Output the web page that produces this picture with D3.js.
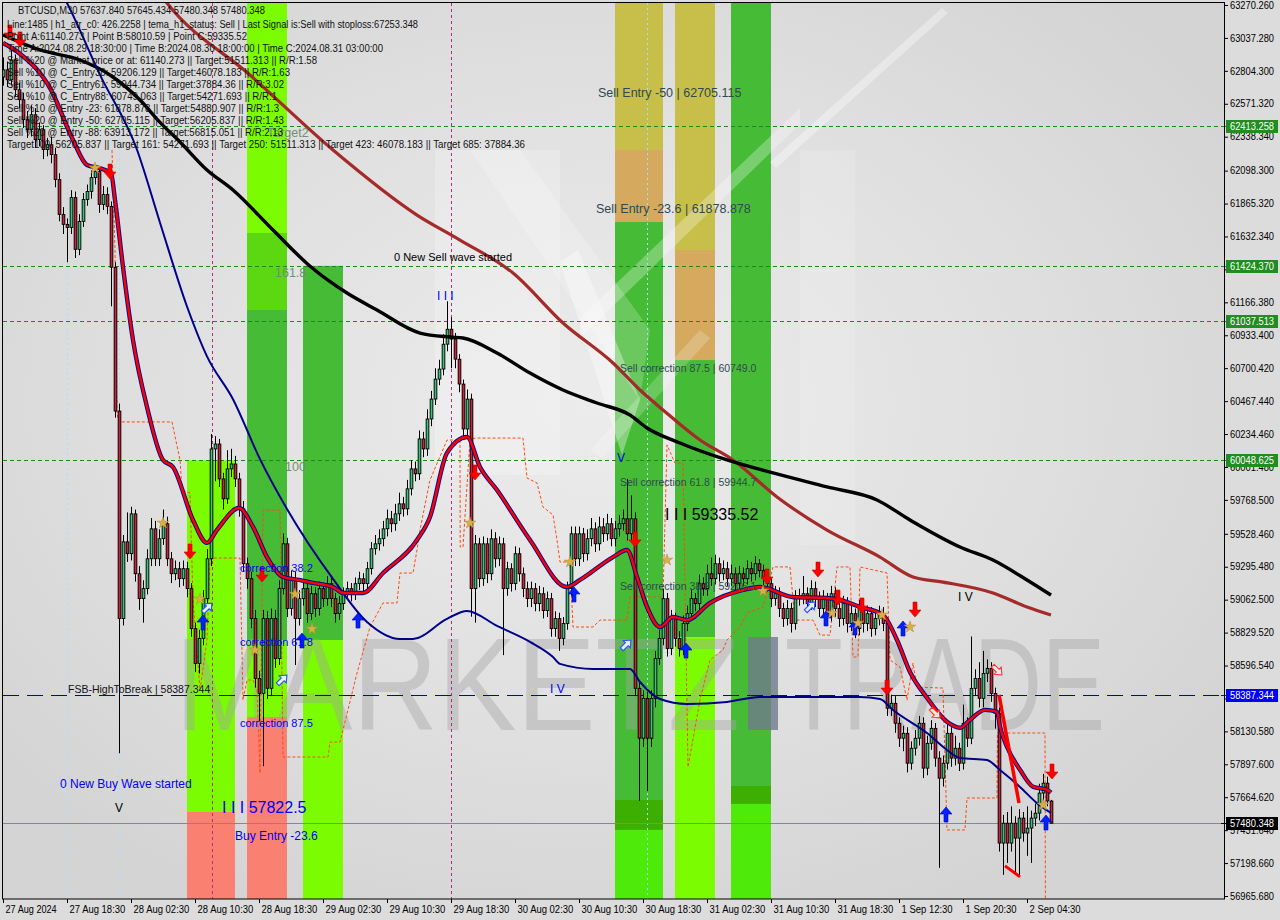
<!DOCTYPE html>
<html><head><meta charset="utf-8">
<script src="https://cdn.jsdelivr.net/npm/d3@7"></script>
<style>
html,body{margin:0;padding:0;background:#dcdcdc;}
svg{display:block;}
text{font-family:"Liberation Sans",Arial,sans-serif;}
</style></head><body>
<svg id="c" width="1280" height="920"></svg>
<script>
// ---------------- DATA ----------------
const firstOpen = 62760;
const closes = [
62812,62741,62882,62671,62600,62459,62388,62494,62318,62388,
62247,62282,62212,62035,61788,61718,61696,61908,61541,61739,
61894,61951,62049,62092,61859,61929,61845,61414,60397,58929,
59472,59388,59670,59246,59070,59141,59352,59564,59352,59494,
59600,59352,59246,59282,59211,59282,59141,58858,58611,58788,
59070,59352,60129,60164,59917,59776,59988,60023,59917,59705,
59317,59211,58929,58505,58399,58929,58435,58929,58646,59141,
59458,59000,59211,58929,59070,59141,58964,59105,59000,59141,
59070,59176,59070,58964,59035,59105,59141,59105,59176,59211,
59176,59282,59423,59458,59494,59564,59635,59600,59670,59741,
59705,59847,59988,59953,60200,60129,60341,60482,60623,60694,
60870,60976,60906,60764,60588,60270,60482,59141,59458,59211,
59458,59246,59494,59352,59458,59141,59282,59176,59388,59246,
59141,59070,59141,59035,59105,58985,59070,58858,58929,58788,
58894,59141,59529,59352,59529,59388,59494,59564,59458,59578,
59529,59600,59494,59564,59600,59635,59529,59635,58435,58082,
58364,58082,58364,58646,58788,59070,58717,58929,58788,58717,
58894,58964,59070,59035,59176,59141,59246,59211,59317,59246,
59282,59211,59246,59176,59246,59211,59282,59246,59317,59268,
59211,59176,59070,59105,59000,58929,59000,58894,59070,59084,
59105,59035,59141,59070,59000,59070,58964,59105,59000,58929,
59035,58894,58964,58858,59000,58894,58964,58858,58929,58964,
58894,58294,58329,58188,58082,58117,57905,58011,58082,58188,
57870,58046,58152,57941,57799,57905,58117,57941,58011,57905,
58188,58082,58435,58505,58364,58541,58576,58399,58258,57340,
57481,57340,57481,57375,57517,57411,57446,57517,57552,57694,
57764,57637.84,57480.348
];
const highs = [
62900,62870,62960,62920,62720,62650,62520,62560,62540,62440,
62420,62330,62340,62260,62080,61840,61760,61960,61950,61790,
61940,62000,62100,62140,62130,61990,61980,61880,61450,60450,
59520,59680,59720,59700,59300,59200,59420,59640,59620,59560,
59700,59650,59400,59340,59330,59340,59330,59180,58900,58850,
59130,59420,60235,60220,60200,59960,60120,60130,60080,59960,
59760,59360,59260,58990,58560,58990,58980,59000,58990,59200,
59530,59500,59270,59260,59130,59200,59190,59160,59150,59190,
59180,59230,59220,59110,59090,59150,59190,59180,59220,59260,
59250,59330,59470,59520,59560,59620,59700,59690,59740,59820,
59790,59910,60050,60040,60260,60250,60410,60540,60700,60760,
60940,61174,61060,60950,60800,60620,60550,60520,59520,59500,
59510,59500,59560,59540,59510,59500,59330,59320,59440,59430,
59290,59190,59190,59180,59160,59150,59120,59110,58980,58970,
58940,59190,59580,59580,59580,59570,59560,59640,59610,59650,
59640,59670,59640,59620,59660,59700,59917,59800,59680,58480,
58420,58410,58420,58700,58850,59140,59110,58990,58970,58840,
58950,59020,59130,59110,59240,59220,59310,59360,59380,59360,
59340,59330,59310,59290,59300,59290,59340,59330,59370,59350,
59310,59260,59220,59160,59150,59040,59060,59040,59130,59140,
59230,59150,59200,59190,59120,59130,59110,59160,59150,59050,
59090,59080,59020,59000,59060,59040,59020,59010,58980,59020,
59010,58930,58390,58380,58230,58170,58160,58060,58140,58240,
58230,58100,58210,58190,57990,57960,58180,58160,58100,58050,
58320,58230,58802,58570,58620,58700,58640,58620,58440,58300,
57540,57560,57600,57530,57580,57560,57600,57570,57620,57760,
57830,57810,57645.434
];
const lows = [
62700,62690,62700,62620,62540,62400,62330,62340,62260,62270,
62180,62200,62150,61980,61740,61650,61450,61650,61480,61500,
61700,61850,61900,62000,61800,61820,61790,61138,60350,57976,
58880,59330,59340,59190,58990,58900,59100,59300,59300,59300,
59450,59300,59180,59200,59150,59160,59080,58800,58550,58540,
58740,59000,59300,59900,59860,59700,59740,59930,59860,59650,
59260,59140,58860,58440,58200,57884,58360,58380,58580,58600,
59100,58940,58950,58600,58880,59020,58900,58920,58940,58950,
59010,59020,59010,58900,58920,58990,59060,59050,59060,59130,
59120,59130,59240,59380,59410,59440,59510,59540,59550,59620,
59650,59660,59800,59900,59910,60070,60080,60290,60440,60580,
60650,60820,60700,60700,60530,60200,60220,58942,58900,59150,
59160,59180,59200,59290,59300,58670,59090,59120,59130,59190,
59080,59010,59010,58980,58980,58930,58940,58800,58800,58700,
58740,58850,59090,59300,59300,59330,59340,59440,59400,59410,
59470,59480,59440,59440,59510,59550,59480,59480,58380,57640,
58020,57708,58020,58300,58600,58740,58660,58670,58730,58660,
58670,58840,58920,58980,58990,59090,59090,59160,59170,59190,
59200,59160,59160,59120,59130,59160,59170,59190,59200,59220,
59160,59120,59010,59020,58940,58870,58880,58830,58850,59020,
59030,58980,58990,59010,58940,58950,58900,58910,58940,58870,
58880,58830,58840,58790,58810,58830,58840,58800,58810,58880,
58840,58240,58240,58120,58020,57990,57840,57860,57960,58030,
57800,57820,58000,57880,57165,57740,57860,57880,57890,57850,
57860,58020,58040,58380,58300,58300,58480,58340,58150,57280,
57115,57200,57280,57130,57115,57350,57250,57200,57460,57500,
57640,57600,57480.348
];

// moving averages as [bar index, price]
const fastMA = [[0,63002],[4,62931],[12,62670],[17.5,62315],[21,62138],[24,62117],[27,62081],[28,61891],[30,61416],[32.5,60900],[36,60426],[40,60051],[42.5,60001],[47.5,59626],[51,59464],[53.5,59556],[59,59711],[62.5,59577],[66,59364],[70,59223],[74,59202],[77.5,59181],[82.5,59152],[85,59110],[90,59110],[95,59251],[103.5,59485],[106.75,59648],[111,60101],[116,60214],[119.25,60001],[123.5,59838],[131.75,59485],[141,59152],[144.25,59202],[152.5,59364],[156,59414],[158.5,59223],[161,59011],[164.25,58869],[167.5,58940],[171,58918],[176.75,59039],[185,59131],[189.25,59152],[197.5,59081],[206,59074],[209.25,59060],[214.25,59011],[220,58954],[223.5,58777],[226.75,58551],[231,58368],[236,58198],[239.25,58156],[241.75,58212],[245.5,58283],[248.5,58269],[249.25,58163],[251,58022],[254.25,57859],[257.5,57739],[261,57718],[262,57697]];
const navyMA = [[14.25,63376],[16,63284],[24.25,62776],[33.5,62246],[39.25,61730],[46,61137],[51,60784],[57.5,60481],[64.25,60057],[71,59704],[82.5,59209],[91,58905],[99.25,58785],[102.5,58785],[111,58927],[116,58983],[123.5,58877],[131.75,58764],[137.5,58657],[139.25,58608],[147.5,58572],[156.75,58572],[159.25,58480],[164.25,58360],[171,58325],[181,58339],[189.25,58374],[197.5,58374],[214.25,58374],[219.25,58360],[222.5,58282],[231,58119],[236,57999],[239.25,57942],[246,57928],[249.25,57857],[254.25,57737],[258.5,57623],[262,57553]];
const blackMA = [[0,63058],[9.25,62952],[19.25,62881],[26.75,62775],[34.25,62598],[39.25,62440],[44.25,62301],[51,62103],[57.5,61961],[67.5,61678],[77,61416],[86,61232],[93.5,61112],[104.25,60949],[111.75,60921],[115,60914],[123.5,60808],[131.75,60666],[140,60546],[148.5,60454],[156.75,60369],[161,60277],[169.25,60171],[181,60051],[192.5,59959],[206,59860],[218.5,59768],[226.75,59626],[239.25,59435],[247.5,59343],[256,59202],[262,59095]];
const brownMA = [[36.75,63447],[41,63284],[61.75,62775],[82.5,62244],[103.5,61784],[114.25,61607],[127.5,61374],[140,61020],[152.5,60737],[159.25,60546],[165,60405],[174.25,60192],[182.5,60051],[193.5,59789],[206,59555],[219.25,59364],[227.5,59223],[235,59187],[247.5,59110],[256,59011],[262,58954]];
const stopLine = [[27.25,62244],[28,61537],[28.5,60383],[29,60320],[42.25,60320],[44.25,60051],[44.75,59838],[46.75,59817],[47.5,59060],[49.25,58423],[51,58777],[51.75,59343],[52.5,59357],[59.25,59357],[60,58352],[61,58494],[62.5,58494],[63.5,58423],[64.25,57836],[65,59697],[69.25,59697],[70,57949],[81.25,57949],[81.75,58055],[84.25,58055],[85,58140],[88.5,58543],[91.75,58869],[95,59039],[98.5,59039],[99.25,59251],[102.5,59251],[103.5,59414],[104.25,59556],[106.75,59909],[111,60192],[114.25,60192],[114.3,59435],[115,59435],[116.75,60192],[118,60206],[130,60206],[131,59923],[133.5,59888],[135,59718],[137.5,59662],[138.5,59485],[139.25,59329],[141.75,59329],[142.5,58869],[147.5,58869],[149.25,58918],[156,58918],[156.75,59081],[165,59081],[166,60157],[168,60029],[170,60029],[171.25,57878],[174.25,58353],[176.75,58636],[180,58706],[181,58777],[184.25,58869],[186,58968],[190,59010],[192.5,59294],[196.75,59294],[198,58918],[202.5,58918],[204.25,58812],[206.75,58812],[208.5,59294],[211.75,59294],[212.5,58657],[213.75,58657],[214.25,59294],[221,59251],[221.75,58636],[224.25,58586],[226,58352],[227.5,58614],[228.5,58444],[235,58437],[236,57433],[240.5,57433],[241,57659],[248.5,57659],[248.6,58119],[260.5,58119],[260.6,56937]];
const trendDown = [[249,58389],[254,57624]];
const trendLow = [[250.5,57179],[254.25,57101]];

// levels
const fibLevels = [62413.258, 61424.370, 61037.513, 60048.625];
const fsbLevel = 58387.344;
const bidLevel = 57480.348;

// zones: bar range and price segments with zone kind
const bands = [
 {from:46,to:58,segs:[[60048.625,57560,'lime'],[57560,56900,'salmon']]},
 {from:61,to:71,segs:[[63400,61657,'lime'],[61657,61112,'mid'],[61112,58777,'green'],[58777,58232,'lime'],[58232,56900,'salmon']]},
 {from:75,to:85,segs:[[61424.37,58777,'green'],[58777,56900,'lime']]},
 {from:153,to:165,segs:[[63400,62244,'khaki'],[62244,61735,'tan'],[61735,57645,'green'],[57645,57433,'deep'],[57433,56900,'bright']]},
 {from:168,to:178,segs:[[63400,61537,'khaki'],[61537,60758,'tan'],[60758,58798,'green'],[58798,56900,'lime']]},
 {from:182,to:192,segs:[[63400,57744,'green'],[57744,57617,'deep'],[57617,56900,'bright']]}
];
const vLines = [[16,'session'],[29,'session'],[52.25,'pivot'],[112,'pivot'],[161,'session']];

// signals
const sellArrows = [[1.75,63072],[4.25,63023],[26.75,62088],[46.75,59400],[64.75,59237],[118,59959],[158,59485],[191,59223],[203.75,59272],[208.75,59074],[214.75,59018],[228,58989],[221,58437],[262.25,57843]];
const buyArrows = [[50,58904],[74.75,58777],[88.75,58918],[142.75,59103],[170.75,58706],[205.75,58933],[213,58869],[225,58862],[235.75,57546],[260.75,57489]];
const stars = [[23,62117],[40,59605],[49.25,59067],[63,58706],[73,59102],[77.25,58855],[116.75,59605],[141.75,59329],[166,59343],[190,59124],[207.25,58968],[213.75,58897],[219.75,58954],[226.75,58869],[260,57610]];
const hollowUp = [[51,59003],[69.75,58494],[155.75,58742],[201.75,59011]];
const hollowDown = [[248.5,58565],[233,58261]];

// annotations: [text, bar index, price, kind]
const notes = [
 ['0 New Sell wave started', 97.75, 61487, 'wave'],
 ['I I I', 108.5, 61211, 'markBlue'],
 ['Sell Entry -50 | 62705.115', 148.75, 62647, 'entry'],
 ['Sell Entry -23.6 | 61878.878', 148.25, 61827, 'entry'],
 ['Sell correction 87.5 | 60749.0', 154.25, 60702, 'corr'],
 ['V', 153.5, 60065, 'markBlue'],
 ['Sell correction 61.8 | 59944.7', 154.25, 59895, 'corr'],
 ['I I I 59335.52', 165.5, 59662, 'price'],
 ['Sell correction 38.2 | 59206.1', 154.25, 59159, 'corr'],
 ['I V', 238.75, 59081, 'markBlack'],
 ['I V', 136.75, 58430, 'markBlue'],
 ['FSB-HighToBreak | 58387.344', 16.25, 58430, 'fsb'],
 ['correction 38.2', 59.25, 59287, 'corrBlue'],
 ['correction 61.8', 59.25, 58763, 'corrBlue'],
 ['correction 87.5', 59.25, 58190, 'corrBlue'],
 ['0 New Buy Wave started', 14.25, 57758, 'waveBlue'],
 ['V', 28, 57588, 'markBlack'],
 ['I I I 57822.5', 54.75, 57595, 'priceBlue'],
 ['Buy Entry -23.6', 58, 57390, 'waveBlue'],
 ['Target2', 66, 62364, 'fib'],
 ['161.8', 68, 61374, 'fib'],
 ['100', 70.5, 60001, 'fib']
];

const infoLines = [
 'BTCUSD,M30  57637.840 57645.434 57480.348 57480.348',
 'Line:1485 | h1_atr_c0: 426.2258 | tema_h1_status: Sell | Last Signal is:Sell with stoploss:67253.348',
 'Point A:61140.273 | Point B:58010.59 | Point C:59335.52',
 'Time A:2024.08.29 18:30:00 | Time B:2024.08.30 18:00:00 | Time C:2024.08.31 03:00:00',
 'Sell %20 @ Market price or at: 61140.273 || Target:51511.313 || R/R:1.58',
 'Sell %10 @ C_Entry38: 59206.129 || Target:46078.183 || R/R:1.63',
 'Sell %10 @ C_Entry61: 59944.734 || Target:37884.36 || R/R:3.02',
 'Sell %10 @ C_Entry88: 60749.063 || Target:54271.693 || R/R:1',
 'Sell %10 @ Entry -23: 61878.878 || Target:54880.907 || R/R:1.3',
 'Sell %20 @ Entry -50: 62705.115 || Target:56205.837 || R/R:1.43',
 'Sell %20 @ Entry -88: 63913.172 || Target:56815.051 || R/R:2.13',
 'Target100: 56205.837 || Target 161: 54271.693 || Target 250: 51511.313 || Target 423: 46078.183 || Target 685: 37884.36'
];

const yTicks = [63270.260,63037.280,62804.300,62571.320,62338.340,62098.300,61865.320,61632.340,61399.360,61166.380,60933.400,60700.420,60467.440,60234.460,60001.480,59768.500,59528.460,59295.480,59062.500,58829.520,58596.540,58363.560,58130.580,57897.600,57664.620,57431.640,57198.660,56965.680];
const xTickIdx = [0,16,32,48,64,80,96,112,128,144,160,176,192,208,224,240,256];
const xTickLabels = ['27 Aug 2024','27 Aug 18:30','28 Aug 02:30','28 Aug 10:30','28 Aug 18:30','29 Aug 02:30','29 Aug 10:30','29 Aug 18:30','30 Aug 02:30','30 Aug 10:30','30 Aug 18:30','31 Aug 02:30','31 Aug 10:30','31 Aug 18:30','1 Sep 12:30','1 Sep 20:30','2 Sep 04:30'];

// ---------------- DRAW ----------------
const W=1280,H=920, PL=3, PT=3, PR=1224, PB=899;
const svg = d3.select('#c');
const x = d3.scaleLinear().domain([0,305]).range([3,1223]);
const y = d3.scaleLinear().domain([56965.68,63270.26]).range([896,5]);

const defs = svg.append('defs');
const rg = defs.append('radialGradient').attr('id','bg').attr('cx','0.48').attr('cy','0.45').attr('r','0.62');
rg.append('stop').attr('offset','0').attr('stop-color','#ececec');
rg.append('stop').attr('offset','0.6').attr('stop-color','#dfdfdf');
rg.append('stop').attr('offset','1').attr('stop-color','#d4d4d4');
defs.append('clipPath').attr('id','clip').append('rect').attr('x',PL).attr('y',PT).attr('width',PR-PL).attr('height',PB-PT);

svg.append('rect').attr('width',W).attr('height',H).attr('fill','#dcdcdc');
const plot = svg.append('g').attr('clip-path','url(#clip)');
plot.append('rect').attr('x',PL).attr('y',PT).attr('width',PR-PL).attr('height',PB-PT).attr('fill','url(#bg)');

// logo (faint)
const logo = plot.append('g');
logo.append('rect').attr('x',435).attr('y',150).attr('width',125).attr('height',325).attr('fill','#fff').attr('opacity',0.22);
logo.append('rect').attr('x',800).attr('y',150).attr('width',55).attr('height',395).attr('fill','#fff').attr('opacity',0.14);
logo.append('path').attr('d','M470,150 L520,150 L650,330 L640,400 Z').attr('fill','#fff').attr('opacity',0.2);
logo.append('path').attr('d','M560,262 L578,250 L640,400 L622,455 Z').attr('fill','#fff').attr('opacity',0.35);

// zones
const bandColor = {lime:'#7cfc00', green:'#46bb36', deep:'#3caf00', mid:'#5cd812', khaki:'#c8bf4a', tan:'#d5aa5e', salmon:'#fa8072', bright:'#4eea0a'};
bands.forEach(b => b.segs.forEach(s => {
  plot.append('rect').attr('x', x(b.from)).attr('width', x(b.to)-x(b.from))
    .attr('y', y(s[0])).attr('height', y(s[1])-y(s[0])).attr('fill', bandColor[s[2]]);
}));

// swoosh over zones
logo.raise();
plot.append('path').attr('d','M580,318 L800,108 L800,124 L580,338 Z').attr('fill','#fff').attr('opacity',0.28);
plot.append('path').attr('d','M770,162 L942,8 L948,13 L776,168 Z').attr('fill','#fff').attr('opacity',0.35);
plot.append('path').attr('d','M590,450 L700,330 L710,338 L602,458 Z').attr('fill','#fff').attr('opacity',0.2);

// watermark
const wm = plot.append('g');
wm.append('text').attr('x',175).attr('y',730).attr('font-size',132).attr('fill','#a4a4a4').attr('opacity',0.42)
  .attr('textLength',565).attr('lengthAdjust','spacingAndGlyphs').text('MARKETZ');
wm.append('rect').attr('x',748).attr('y',637).attr('width',30).attr('height',93).attr('fill','#6f7b8c').attr('opacity',0.8);
wm.append('text').attr('x',785).attr('y',730).attr('font-size',132).attr('fill','#a4a4a4').attr('opacity',0.42)
  .attr('textLength',320).attr('lengthAdjust','spacingAndGlyphs').text('TRADE');

// vertical lines
const vStyle = {session:['#a8e4ee','2,3'], pivot:['#c0287a','3,3']};
vLines.forEach(v => {
  plot.append('line').attr('x1',x(v[0])+0.5).attr('x2',x(v[0])+0.5).attr('y1',PT).attr('y2',PB)
    .attr('stroke',vStyle[v[1]][0]).attr('stroke-dasharray',vStyle[v[1]][1]).attr('stroke-width',1);
});

// horizontal levels
fibLevels.forEach(p => {
  plot.append('line').attr('x1',PL).attr('x2',PR).attr('y1',Math.round(y(p))+0.5).attr('y2',Math.round(y(p))+0.5)
    .attr('stroke','#1a8a1a').attr('stroke-dasharray','4,3').attr('stroke-width',1);
});
plot.append('line').attr('x1',PL).attr('x2',PR).attr('y1',Math.round(y(fsbLevel))+0.5).attr('y2',Math.round(y(fsbLevel))+0.5)
  .attr('stroke','#0000c8').attr('stroke-dasharray','16,8').attr('stroke-width',1);
plot.append('line').attr('x1',PL).attr('x2',PR).attr('y1',Math.round(y(bidLevel))+0.5).attr('y2',Math.round(y(bidLevel))+0.5)
  .attr('stroke','#7f8a96').attr('stroke-width',1);

// stop line
const line = d3.line().x(d=>x(d[0])).y(d=>y(d[1]));
plot.append('path').datum(stopLine).attr('d',line).attr('fill','none')
  .attr('stroke','#ff4a10').attr('stroke-width',1).attr('stroke-dasharray','3,2');

// candles
const cg = plot.append('g');
closes.forEach((c,i) => {
  const o = i===0 ? firstOpen : closes[i-1];
  const cx = x(i) + 0.5;
  cg.append('line').attr('x1',cx).attr('x2',cx).attr('y1',y(highs[i])).attr('y2',y(lows[i]))
    .attr('stroke','#000').attr('stroke-width',1);
  const top = y(Math.max(o,c)), h = Math.max(1, Math.abs(y(o)-y(c)));
  cg.append('rect').attr('x',cx-1.8).attr('width',3.6).attr('y',top-0.4).attr('height',h+0.8).attr('fill','#000');
  if (h > 1.5) cg.append('rect').attr('x',cx-0.9).attr('width',1.8).attr('y',top+0.5).attr('height',h-1)
    .attr('fill', c>=o ? '#3cc07a' : '#c42840');
});

// moving averages
const smooth = d3.line().x(d=>x(d[0])).y(d=>y(d[1])).curve(d3.curveMonotoneX);
plot.append('path').datum(brownMA).attr('d',smooth).attr('fill','none').attr('stroke','#a52a2a').attr('stroke-width',3.2);
plot.append('path').datum(blackMA).attr('d',smooth).attr('fill','none').attr('stroke','#000').attr('stroke-width',3.4);
plot.append('path').datum(navyMA).attr('d',smooth).attr('fill','none').attr('stroke','#00008b').attr('stroke-width',2);
plot.append('path').datum(fastMA).attr('d',smooth).attr('fill','none').attr('stroke','#0a0a8a').attr('stroke-width',4.4);
plot.append('path').datum(fastMA).attr('d',smooth).attr('fill','none').attr('stroke','#ff0000').attr('stroke-width',2.4);
plot.append('path').datum(trendDown).attr('d',line).attr('fill','none').attr('stroke','#ff0000').attr('stroke-width',3.5);
plot.append('path').datum(trendLow).attr('d',line).attr('fill','none').attr('stroke','#ff0000').attr('stroke-width',3);

// arrows & symbols
const downPath = 'M-2,-8 H2 V0 H6 L0,7 L-6,0 H-2 Z';
const upPath = 'M-2,8 H2 V0 H6 L0,-7 L-6,0 H-2 Z';
sellArrows.forEach(a => plot.append('path').attr('d',downPath)
  .attr('transform',`translate(${x(a[0])},${y(a[1])})`).attr('fill','#ff0000').attr('stroke','#d00000').attr('stroke-width',0.6));
buyArrows.forEach(a => plot.append('path').attr('d',upPath)
  .attr('transform',`translate(${x(a[0])},${y(a[1])})`).attr('fill','#0022ff').attr('stroke','#0000c0').attr('stroke-width',0.6));
const starSym = d3.symbol(d3.symbolStar, 42);
stars.forEach(s => plot.append('path').attr('d',starSym())
  .attr('transform',`translate(${x(s[0])},${y(s[1])})`).attr('fill','#d8b048').attr('stroke','#b08a30').attr('stroke-width',0.5));
const hollow = 'M-2,6 V-1 H-5 L0,-7 L5,-1 H2 V6 Z';
hollowUp.forEach(h => plot.append('path').attr('d',hollow)
  .attr('transform',`translate(${x(h[0])},${y(h[1])}) rotate(45)`).attr('fill','#e8eefc').attr('stroke','#2050ff').attr('stroke-width',1.1));
hollowDown.forEach(h => plot.append('path').attr('d',hollow)
  .attr('transform',`translate(${x(h[0])},${y(h[1])}) rotate(135)`).attr('fill','#fbe8e8').attr('stroke','#ff3030').attr('stroke-width',1.1));

// annotations
const noteStyle = {
  wave:['#000',11], waveBlue:['#0000ff',12], entry:['#2f4a4f',12.5], corr:['#2f4a4f',10.5],
  price:['#000',16], priceBlue:['#0000ff',16], markBlue:['#0000ff',12], markBlack:['#000',12],
  fsb:['#111',10.5], corrBlue:['#0000ff',11], fib:['#6f8f6f',12.5]
};
notes.forEach(n => {
  const st = noteStyle[n[3]];
  plot.append('text').attr('x',x(n[1])).attr('y',y(n[2])).attr('dominant-baseline','central')
    .attr('font-size',st[1]).attr('fill',st[0]).text(n[0]);
});

// info block
const infoX = [18,7,7,7,7,7,7,7,7,7,7,7];
const infoW = [247,411,240,376,310,283,277,270,272,277,276,518];
infoLines.forEach((t,i) => {
  const cy = i===0 ? 10.5 : 12*i + 12;
  plot.append('text').attr('x',infoX[i]).attr('y',cy+3.6).attr('font-size',10).attr('fill','#111')
    .attr('textLength',infoW[i]).attr('lengthAdjust','spacingAndGlyphs').text(t);
});

// axes
const ya = svg.append('g').attr('transform',`translate(${PR},0)`)
  .call(d3.axisRight(y).tickValues(yTicks).tickFormat(d3.format('.3f')).tickSize(4));
ya.select('.domain').remove();
ya.selectAll('line').attr('stroke','#000');
ya.selectAll('text').attr('font-size',10).attr('fill','#000').attr('x',6)
  .attr('textLength',44).attr('lengthAdjust','spacingAndGlyphs')
  .style('font-family','"Liberation Sans",Arial,sans-serif');

const xa = svg.append('g').attr('transform',`translate(0,${PB})`)
  .call(d3.axisBottom(x).tickValues(xTickIdx).tickFormat((d,i)=>xTickLabels[i]).tickSize(4));
xa.select('.domain').remove();
xa.selectAll('line').attr('stroke','#000');
xa.selectAll('text').attr('font-size',10).attr('fill','#000').attr('text-anchor','start').attr('x',2).attr('y',7)
  .attr('textLength', function(){ return this.textContent.length*4.65; }).attr('lengthAdjust','spacingAndGlyphs')
  .style('font-family','"Liberation Sans",Arial,sans-serif');

// level boxes on axis
const boxes = fibLevels.map(p=>[p,'#228b22']).concat([[fsbLevel,'#0000ff'],[bidLevel,'#000000']]);
boxes.forEach(b => {
  const yy = Math.round(y(b[0]));
  svg.append('line').attr('x1',PR-3).attr('x2',PR+2).attr('y1',yy+0.5).attr('y2',yy+0.5).attr('stroke',b[1]);
  svg.append('rect').attr('x',PR+2).attr('y',yy-6).attr('width',52).attr('height',13).attr('fill',b[1]);
  svg.append('text').attr('x',PR+6).attr('y',yy+4).attr('font-size',10).attr('fill','#fff')
    .attr('textLength',44).attr('lengthAdjust','spacingAndGlyphs').text(d3.format('.3f')(b[0]));
});

// frame
svg.append('rect').attr('x',2.5).attr('y',2.5).attr('width',PR-2).attr('height',PB-2.5)
  .attr('fill','none').attr('stroke','#000').attr('stroke-width',1);
</script></body></html>
